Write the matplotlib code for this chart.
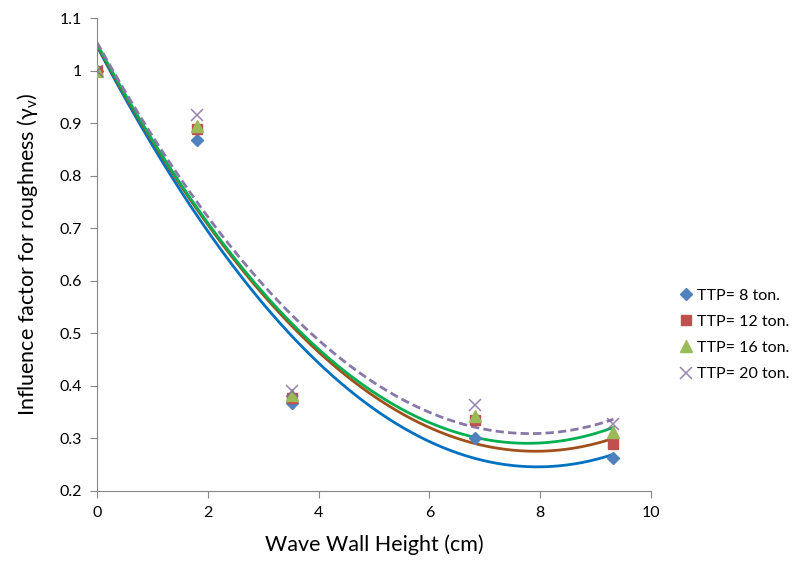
import numpy as np
import matplotlib
matplotlib.use("Agg")
import matplotlib.pyplot as plt

plt.rcParams['font.family'] = ['Lato', 'DejaVu Sans']
plt.rcParams['mathtext.fontset'] = 'custom'
plt.rcParams['mathtext.rm'] = 'Lato'

# wave wall height (cm)
height = [0.0, 1.8, 3.52, 6.82, 9.32]

ttp_8 = [1.0, 0.868, 0.368, 0.300, 0.262]
ttp_12 = [1.0, 0.888, 0.376, 0.335, 0.290]
ttp_16 = [1.0, 0.895, 0.382, 0.342, 0.313]
ttp_20 = [1.0, 0.915, 0.390, 0.364, 0.328]

labels = ['TTP= 8 ton.', 'TTP= 12 ton.', 'TTP= 16 ton.', 'TTP= 20 ton.']
series = [ttp_8, ttp_12, ttp_16, ttp_20]

markers = ['D', 's', '^', 'x']
mcolors = ['#4F81BD', '#C0504D', '#9BBB59', '#8064A2']
msizes = [6.5, 7.5, 8.5, 8.5]
# polynomial (order 2) trendline colours
tcolors = ['#0070C0', '#A0501A', '#00B050', '#8878A8']
tstyles = ['-', '-', '-', (0, (3, 1.5))]

fig = plt.figure(figsize=(7.94, 5.63), dpi=100)
ax = fig.add_axes([0.122, 0.128, 0.698, 0.840])

xs = np.linspace(0, max(height), 200)
for y, c, ls in zip(series, tcolors, tstyles):
    coef = np.polyfit(height, y, 2)
    ax.plot(xs, np.polyval(coef, xs), color=c, lw=2, ls=ls, zorder=2)

for y, m, c, s, lab in zip(series, markers, mcolors, msizes, labels):
    if m == 'x':
        ax.plot(height, y, ls='none', marker=m, color=c, ms=s, mew=1.1,
                alpha=0.8, label=lab, zorder=3)
    else:
        ax.plot(height, y, ls='none', marker=m, color=c, ms=s, mec=c,
                label=lab, zorder=3)

ax.set_xlim(0, 10)
ax.set_ylim(0.2, 1.1)
ax.set_xticks(range(0, 11, 2))
ax.set_yticks(np.arange(0.2, 1.11, 0.1))
ax.set_yticklabels(['0.2', '0.3', '0.4', '0.5', '0.6', '0.7', '0.8', '0.9', '1', '1.1'])

for side in ['top', 'right']:
    ax.spines[side].set_visible(False)
for side in ['left', 'bottom']:
    ax.spines[side].set_color('#868686')
ax.tick_params(direction='out', length=5, color='#868686', labelsize=11.5, pad=6)

ax.set_xlabel('Wave Wall Height (cm)', fontsize=15.5, labelpad=10)
ax.set_ylabel('Influence factor for roughness (γ$_\\mathregular{v}$)', fontsize=15.5, labelpad=14)

ax.legend(loc='center left', bbox_to_anchor=(1.02, 0.33), frameon=False,
          fontsize=11.5, handletextpad=0.1, labelspacing=0.75, handlelength=1.2)

plt.savefig('out.png', dpi=100)
